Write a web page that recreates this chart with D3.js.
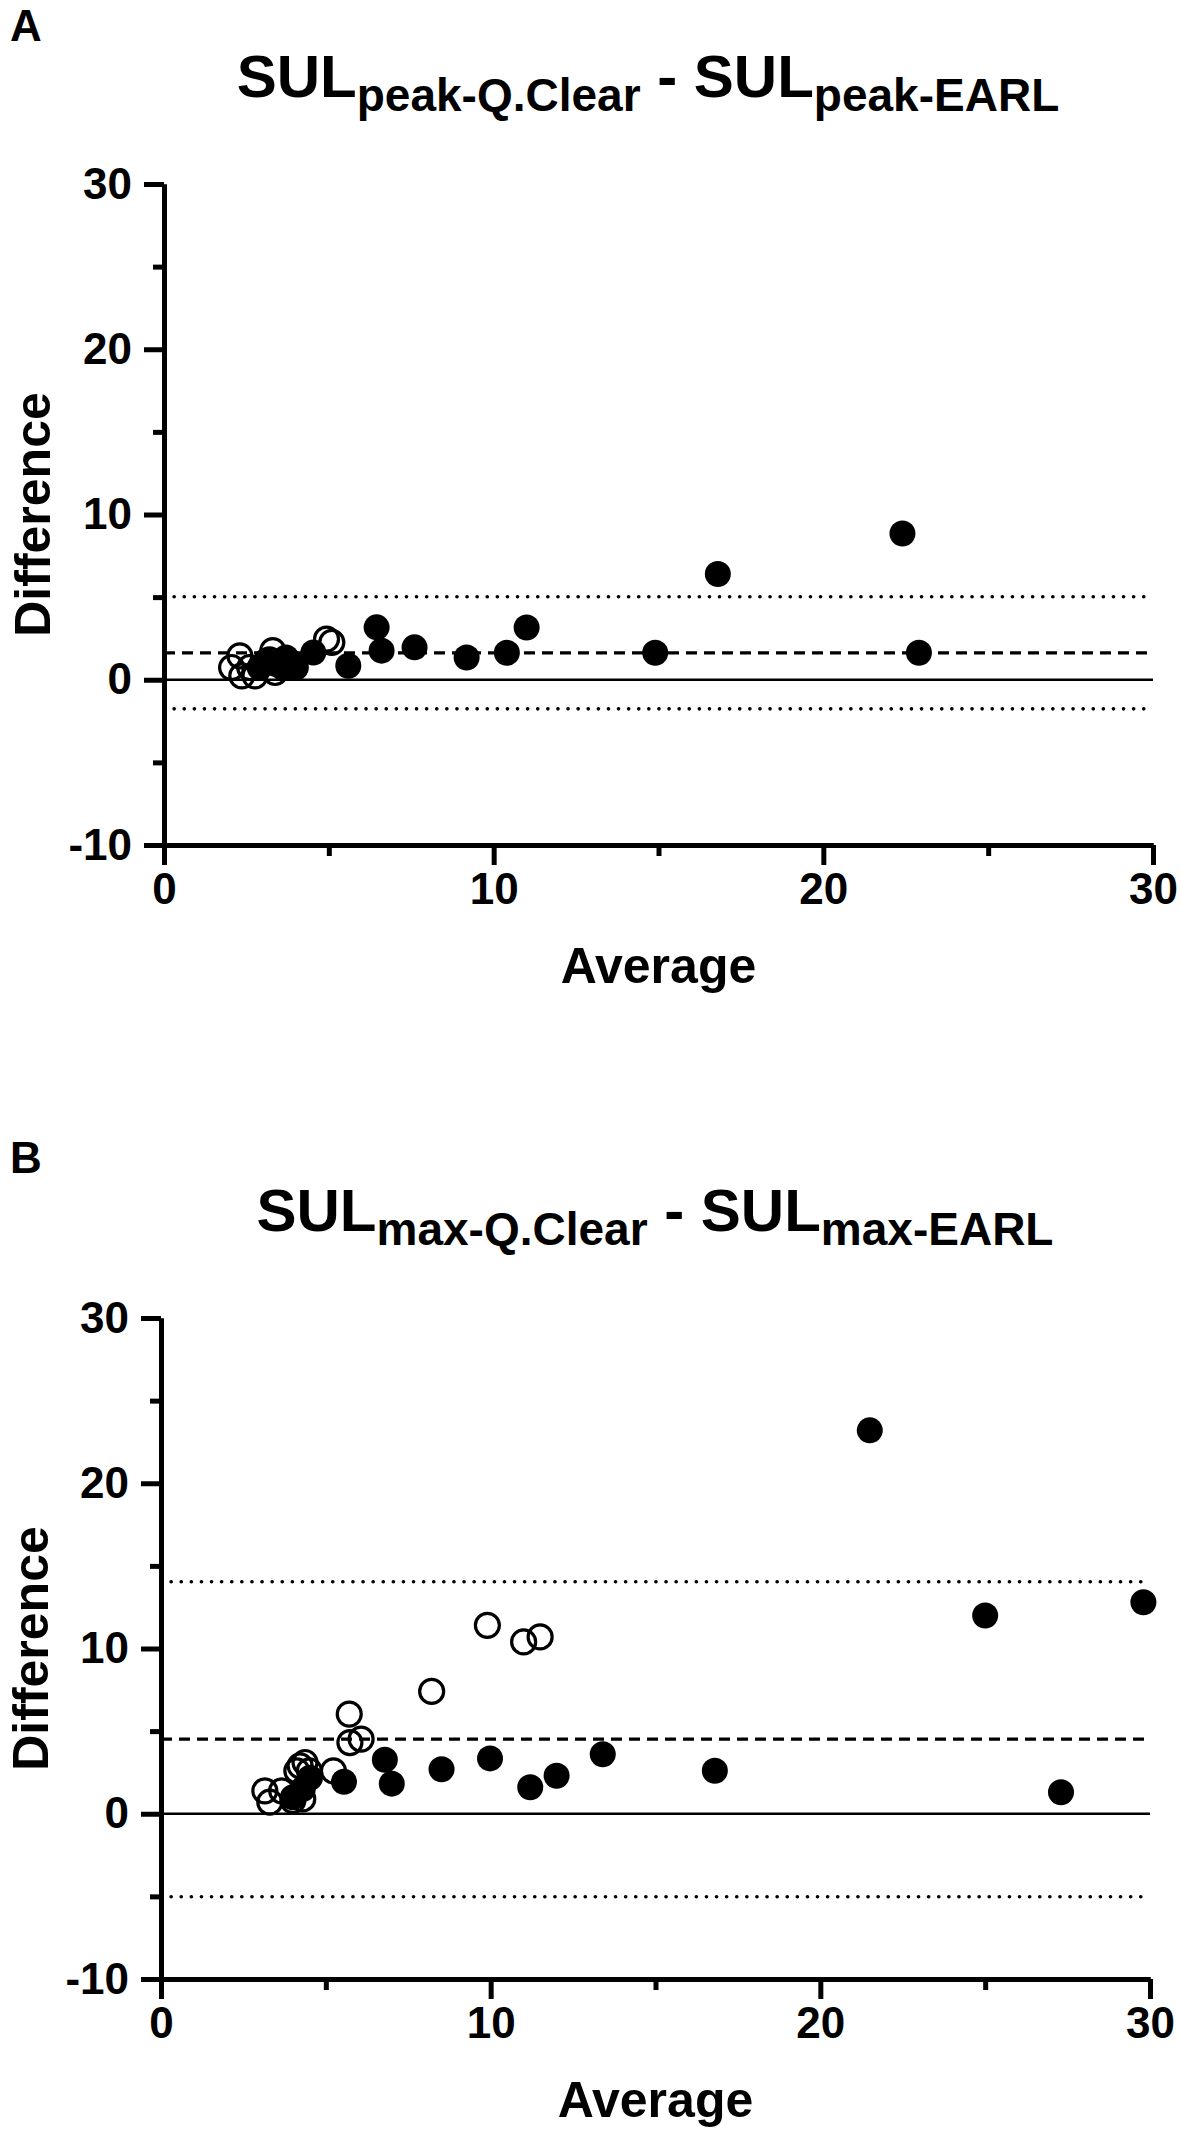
<!DOCTYPE html>
<html><head><meta charset="utf-8">
<script src="https://cdn.jsdelivr.net/npm/d3@7"></script>
<style>
body{margin:0;background:#fff}
svg{display:block}
text{font-family:"Liberation Sans",Arial,Helvetica,sans-serif;font-weight:bold;fill:#000}
</style>
</head><body>
<svg id="chart" width="1181" height="2135"></svg>
<script>
// ---- tick values ----
const xTicksMajor = [0, 10, 20, 30];
const xTicksMinor = [5, 15, 25];
const yTicksMajor = [-10, 0, 10, 20, 30];
const yTicksMinor = [-5, 5, 15, 25];

// ---- labels ----
const panelLabels = ["A", "B"];
const titleMain = "SUL";
const titleSubsA = ["peak-Q.Clear", "peak-EARL"];
const titleSubsB = ["max-Q.Clear", "max-EARL"];
const xLabel = "Average";
const yLabel = "Difference";

// ---- Panel A data (SULpeak) ----
const aOpenAvg  = [2.05, 2.3, 2.36, 2.6, 2.76, 3.2, 3.3, 3.37, 4.93, 5.09];
const aOpenDiff = [0.74, 1.45, 0.24, 0.74, 0.24, 1.2, 1.76, 0.44, 2.46, 2.26];
const aSolidAvg  = [2.9, 3.1, 3.37, 3.6, 3.7, 3.87, 4.0, 4.53, 5.59, 6.45, 6.6, 7.6, 9.18, 10.4, 11.0, 14.9, 16.8, 22.4, 22.9];
const aSolidDiff = [0.74, 1.15, 0.97, 0.74, 1.35, 1.05, 0.74, 1.65, 0.85, 3.17, 1.76, 1.96, 1.35, 1.63, 3.16, 1.63, 6.4, 8.85, 1.63];
const aBias = 1.63, aUpper = 5.02, aLower = -1.76;

// ---- Panel B data (SULmax) ----
const bOpenAvg  = [3.15, 3.3, 3.66, 4.0, 4.3, 4.12, 4.22, 4.37, 4.5, 5.23, 5.73, 6.07, 5.71, 8.21, 9.9, 11.0, 11.5];
const bOpenDiff = [1.39, 0.7, 1.39, 0.8, 0.9, 2.6, 2.9, 3.1, 2.6, 2.6, 4.31, 4.52, 6.03, 7.4, 11.4, 10.4, 10.7];
const bSolidAvg  = [4.0, 4.3, 4.52, 5.55, 6.79, 7.0, 8.51, 9.98, 11.2, 12.0, 13.4, 16.8, 21.5, 25.0, 27.3, 29.8];
const bSolidDiff = [1.0, 1.5, 2.18, 1.94, 3.27, 1.82, 2.69, 3.35, 1.6, 2.3, 3.6, 2.6, 23.2, 12.0, 1.3, 12.8];
const bBias = 4.51, bUpper = 14.04, bLower = -5.02;

// ---- layout (positions only) ----
const layout = [
  {x0:164, x1:1153, yT:184, yB:845, titleX:648, titleY:97, labX:10, labY:41, avgY:983, diffX:50},
  {x0:161, x1:1150, yT:1318, yB:1979, titleX:655, titleY:1231, labX:10, labY:1173, avgY:2117, diffX:48}
];

const svg = d3.select("#chart");

const panels = [
  {label: panelLabels[0], subs: titleSubsA, openX: aOpenAvg, openY: aOpenDiff, solidX: aSolidAvg, solidY: aSolidDiff, bias: aBias, upper: aUpper, lower: aLower},
  {label: panelLabels[1], subs: titleSubsB, openX: bOpenAvg, openY: bOpenDiff, solidX: bSolidAvg, solidY: bSolidDiff, bias: bBias, upper: bUpper, lower: bLower}
];

panels.forEach((p, i) => {
  const L = layout[i];
  const x = d3.scaleLinear().domain([0, 30]).range([L.x0, L.x1]);
  const y = d3.scaleLinear().domain([-10, 30]).range([L.yB, L.yT]);
  const g = svg.append("g");

  g.append("text").attr("x", L.labX).attr("y", L.labY)
    .style("font-size", "44px").text(p.label);

  const t = g.append("text").attr("x", L.titleX).attr("y", L.titleY)
    .attr("text-anchor", "middle").style("font-size", "60px");
  t.append("tspan").text(titleMain);
  t.append("tspan").attr("dy", 14).style("font-size", "46px").text(p.subs[0]);
  t.append("tspan").attr("dy", -14).text(" - " + titleMain);
  t.append("tspan").attr("dy", 14).style("font-size", "46px").text(p.subs[1]);

  const refs = [
    {v: 0, w: 2.4, dash: null, cap: "butt"},
    {v: p.bias, w: 3.2, dash: "11,7", cap: "butt"},
    {v: p.upper, w: 3.6, dash: "0.1,10", cap: "round"},
    {v: p.lower, w: 3.6, dash: "0.1,10", cap: "round"}
  ];
  refs.forEach(r => {
    g.append("line")
      .attr("x1", x(0)).attr("x2", x(30))
      .attr("y1", y(r.v)).attr("y2", y(r.v))
      .attr("stroke", "#000").attr("stroke-width", r.w)
      .attr("stroke-dasharray", r.dash)
      .attr("stroke-linecap", r.cap);
  });

  const styleAxis = sel => {
    sel.selectAll("path.domain").attr("stroke-width", 5).attr("stroke", "#000");
    sel.selectAll(".tick line").attr("stroke-width", 5).attr("stroke", "#000");
    sel.selectAll(".tick text").style("font-size", "44px").attr("fill", "#000")
      .style("font-family", '"Liberation Sans",Arial,sans-serif').style("font-weight", "bold");
    sel.attr("font-size", null).attr("font-family", null);
  };

  const yMinor = g.append("g").attr("transform", `translate(${L.x0},0)`)
    .call(d3.axisLeft(y).tickValues(yTicksMinor).tickSize(11).tickSizeOuter(0).tickFormat(""));
  styleAxis(yMinor);
  const yMajor = g.append("g").attr("transform", `translate(${L.x0},0)`)
    .call(d3.axisLeft(y).tickValues(yTicksMajor).tickSize(20).tickSizeOuter(0).tickPadding(12).tickFormat(d3.format("d")));
  styleAxis(yMajor);
  yMajor.selectAll(".tick text").text(d => d < 0 ? "-" + Math.abs(d) : d);

  const xMinor = g.append("g").attr("transform", `translate(0,${L.yB})`)
    .call(d3.axisBottom(x).tickValues(xTicksMinor).tickSize(11).tickSizeOuter(0).tickFormat(""));
  styleAxis(xMinor);
  const xMajor = g.append("g").attr("transform", `translate(0,${L.yB})`)
    .call(d3.axisBottom(x).tickValues(xTicksMajor).tickSize(20).tickSizeOuter(0).tickPadding(8).tickFormat(d3.format("d")));
  styleAxis(xMajor);

  g.append("text").attr("x", (L.x0 + L.x1) / 2).attr("y", L.avgY)
    .attr("text-anchor", "middle").style("font-size", "50px").text(xLabel);
  g.append("text")
    .attr("transform", `translate(${L.diffX},${(L.yT + L.yB) / 2}) rotate(-90)`)
    .attr("text-anchor", "middle").style("font-size", "50px").text(yLabel);

  const openData = p.openX.map((v, k) => [v, p.openY[k]]);
  const solidData = p.solidX.map((v, k) => [v, p.solidY[k]]);
  g.append("g").selectAll("circle").data(openData).join("circle")
    .attr("cx", d => x(d[0])).attr("cy", d => y(d[1])).attr("r", 12)
    .attr("fill", "none").attr("stroke", "#000").attr("stroke-width", 3.2);
  g.append("g").selectAll("circle").data(solidData).join("circle")
    .attr("cx", d => x(d[0])).attr("cy", d => y(d[1])).attr("r", 13)
    .attr("fill", "#000");
});
</script>
</body></html>
